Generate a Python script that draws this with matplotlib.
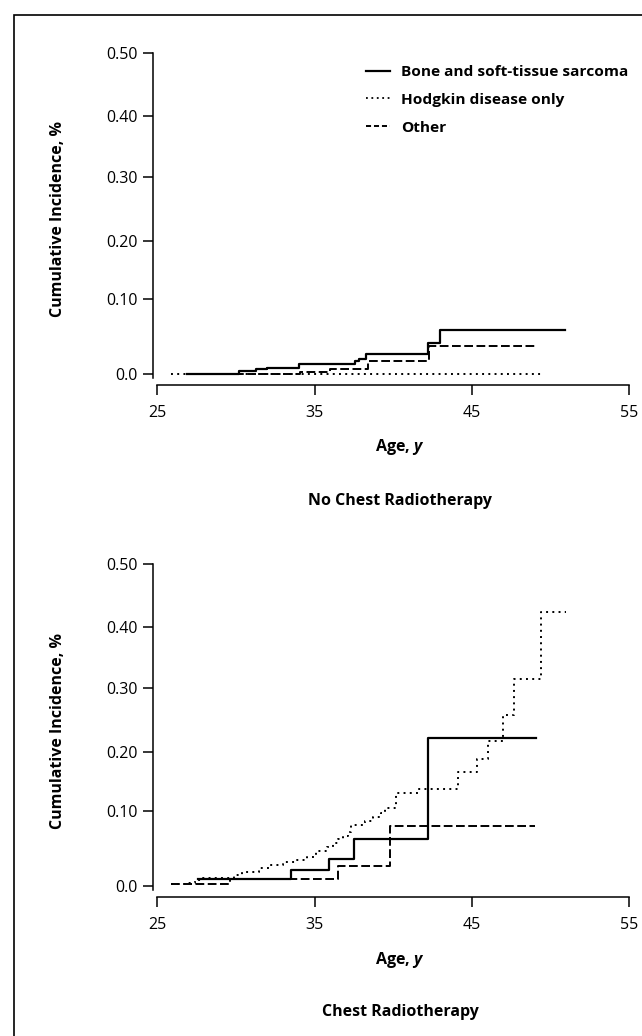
import numpy as np
import matplotlib
matplotlib.use("Agg")
import matplotlib.pyplot as plt
from matplotlib.lines import Line2D
from matplotlib.patches import Rectangle

# ---------------- data ----------------
x_ticks = [25, 35, 45, 55]
y_ticks = [0.0, 0.1, 0.2, 0.3, 0.4, 0.5]
y_tick_labels = ["0.0", "0.10", "0.20", "0.30", "0.40", "0.50"]
series_labels = ["Bone and soft-tissue sarcoma", "Hodgkin disease only", "Other"]
panel_titles = ["No Chest Radiotherapy", "Chest Radiotherapy"]

# No chest radiotherapy
top_sarcoma_age = [26.9, 30.2, 31.3, 32.0, 34.0, 37.6, 37.8, 38.3, 42.2, 43.0, 50.9]
top_sarcoma_inc = [0.001, 0.004, 0.007, 0.009, 0.014, 0.018, 0.021, 0.027, 0.041, 0.059, 0.059]
top_hodgkin_age = [25.9, 49.4]
top_hodgkin_inc = [0.0, 0.0]
top_other_age = [26.8, 31.2, 34.1, 36.0, 38.4, 42.3, 49.0]
top_other_inc = [0.0, 0.001, 0.0035, 0.0066, 0.018, 0.038, 0.038]

# Chest radiotherapy
bot_sarcoma_age = [27.6, 33.5, 35.9, 37.5, 42.2, 49.1]
bot_sarcoma_inc = [0.009, 0.021, 0.036, 0.062, 0.222, 0.222]
bot_hodgkin_age = [25.9, 26.9, 27.4, 27.9, 29.9, 30.4, 31.5, 32.2, 33.0, 33.9, 34.5,
                   35.1, 35.8, 36.2, 36.5, 36.8, 37.1, 37.3, 38.2, 38.7, 39.2, 39.5,
                   40.2, 41.6, 44.1, 45.3, 46.0, 47.0, 47.7, 49.4, 51.0]
bot_hodgkin_inc = [0.002, 0.004, 0.008, 0.010, 0.015, 0.019, 0.024, 0.028, 0.032, 0.035, 0.039,
                   0.046, 0.052, 0.057, 0.062, 0.066, 0.072, 0.081, 0.086, 0.092, 0.097, 0.105,
                   0.131, 0.137, 0.167, 0.189, 0.217, 0.258, 0.314, 0.4235, 0.4235]
bot_other_age = [25.9, 29.6, 36.5, 39.8, 49.0]
bot_other_inc = [0.002, 0.009, 0.027, 0.080, 0.080]

# ---------------- style ----------------
FONT = "Open Sans"
plt.rcParams["font.family"] = [FONT, "DejaVu Sans"]
plt.rcParams["mathtext.fontset"] = "custom"
plt.rcParams["mathtext.it"] = f"{FONT}:italic:bold"
plt.rcParams["mathtext.rm"] = f"{FONT}:bold"

W, H = 642, 1036
fig = plt.figure(figsize=(W / 100, H / 100), dpi=100)

# the original axis has slightly uneven tick spacing; reproduce with a piecewise scale
_sv = np.array([0.0, 0.1, 0.2, 0.3, 0.4, 0.5])
_sp = np.array([0.0, 75.3, 133.3, 198.0, 258.3, 321.5])


def fwd(v):
    v = np.asarray(v, dtype=float)
    out = np.interp(v, _sv, _sp)
    out = np.where(v < 0, v * 753.0, out)
    out = np.where(v > 0.5, 321.5 + (v - 0.5) * 640.0, out)
    return out


def inv(p):
    p = np.asarray(p, dtype=float)
    out = np.interp(p, _sp, _sv)
    out = np.where(p < 0, p / 753.0, out)
    out = np.where(p > 321.5, 0.5 + (p - 321.5) / 640.0, out)
    return out


px_per_year = 15.73
x_left = 24.75
x_right = 55.1
left_px = 153.3
width_px = (x_right - x_left) * px_per_year
center_px = 400.0

TICK_FS = 11.5
LABEL_FS = 11.5
SOLID = dict(color="black", lw=1.6, linestyle="-")
DOTTED = dict(color="black", lw=1.4, linestyle=(0, (1, 2.2)))
DASHED = dict(color="black", lw=1.4, linestyle=(0, (4.5, 1.8)))


def make_axes(top_px, bottom_px, zero_px):
    ax = fig.add_axes([left_px / W, 1 - bottom_px / H, width_px / W, (bottom_px - top_px) / H])
    ax.set_yscale("function", functions=(fwd, inv))
    ymin = -(bottom_px - zero_px) / 753.0
    ax.set_ylim(ymin, 0.5)
    ax.set_xlim(x_left, x_right)
    for s in ["top", "right"]:
        ax.spines[s].set_visible(False)
    ax.spines["left"].set_bounds(-0.005, 0.5)
    ax.spines["bottom"].set_bounds(25, 55)
    for s in ["left", "bottom"]:
        ax.spines[s].set_linewidth(1.1)
    ax.set_xticks(x_ticks)
    ax.set_xticklabels([str(t) for t in x_ticks])
    ax.set_yticks(y_ticks)
    ax.set_yticklabels(y_tick_labels)
    ax.yaxis.set_minor_locator(matplotlib.ticker.NullLocator())
    ax.tick_params(axis="both", direction="out", length=7.2, width=1.1,
                   labelsize=TICK_FS, colors="black")
    ax.tick_params(axis="x", pad=7)
    ax.tick_params(axis="y", pad=4)
    ax.set_ylabel("Cumulative Incidence, %", fontsize=LABEL_FS, fontweight="bold", labelpad=29)
    ax.set_xlabel("Age, $y$", fontsize=LABEL_FS, fontweight="bold", labelpad=12)
    ax.xaxis.label.set_x((center_px - left_px) / width_px)
    return ax


def draw(ax, sa, si, ha, hi, oa, oi):
    ax.step(sa, si, where="post", **SOLID)
    ax.step(ha, hi, where="post", **DOTTED)
    ax.step(oa, oi, where="post", **DASHED)


ax1 = make_axes(53.3, 385.0, 374.3)
draw(ax1, top_sarcoma_age, top_sarcoma_inc, top_hodgkin_age, top_hodgkin_inc,
     top_other_age, top_other_inc)

ax2 = make_axes(564.0, 897.3, 886.0)
draw(ax2, bot_sarcoma_age, bot_sarcoma_inc, bot_hodgkin_age, bot_hodgkin_inc,
     bot_other_age, bot_other_inc)

handles = [Line2D([], [], color="black", lw=1.6, linestyle="-"),
           Line2D([], [], color="black", lw=1.3, linestyle=(0, (1, 2.0))),
           Line2D([], [], color="black", lw=1.4, linestyle=(0, (2.6, 1.5)))]
ax1.legend(handles, series_labels, loc="upper left",
           bbox_to_anchor=(366 / W, 1 - 65 / H), bbox_transform=fig.transFigure,
           frameon=False, borderpad=0, borderaxespad=0, handlelength=1.58,
           handletextpad=0.72, labelspacing=0.9,
           prop={"family": FONT, "weight": "bold", "size": 11.1})

fig.text(center_px / W, 1 - 501 / H, panel_titles[0], ha="center", va="center",
         fontsize=LABEL_FS, fontweight="bold")
fig.text(center_px / W, 1 - 1012 / H, panel_titles[1], ha="center", va="center",
         fontsize=LABEL_FS, fontweight="bold")

# outer frame
fig.patches.append(Rectangle((14 / W, -0.05), 1.2, 1 - 15 / H + 0.05,
                             transform=fig.transFigure, fill=False,
                             edgecolor="black", linewidth=1.2))

fig.savefig("out.png", dpi=100)
